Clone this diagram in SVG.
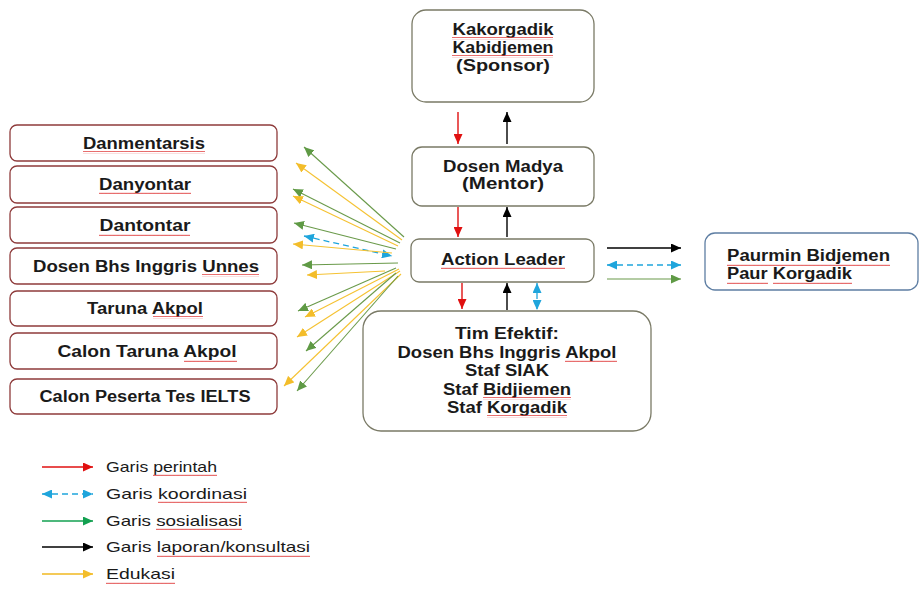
<svg xmlns="http://www.w3.org/2000/svg" width="920" height="592" viewBox="0 0 920 592">
<style>
.bx{fill:#fff;stroke:#7a7a66;stroke-width:1.3}
.lb{fill:#fff;stroke:#8e3b3b;stroke-width:1.3}
.rb{fill:#fff;stroke:#5e7ea3;stroke-width:1.3}
.t{font-family:"Liberation Sans",Arial,sans-serif;font-weight:bold;font-size:16px;fill:#1a1a1a;text-anchor:middle}
.tl{text-anchor:start}
.lg{font-family:"Liberation Sans",Arial,sans-serif;font-size:15px;fill:#1a1a1a}
.sq{fill:url(#wv)}
.r{stroke:#e01010;stroke-width:1.4;fill:none}
.k{stroke:#000;stroke-width:1.4;fill:none}
.b{stroke:#1fa5dc;stroke-width:1.3;fill:none;stroke-dasharray:6 4}
.g{stroke:#6a9a4a;stroke-width:1.1;fill:none}
.y{stroke:#f5c232;stroke-width:1.1;fill:none}
.gl{stroke:#12a050;stroke-width:1.4;fill:none}
.yl{stroke:#f0b820;stroke-width:1.4;fill:none}
</style>
<defs>
<pattern id="wv" patternUnits="userSpaceOnUse" width="4" height="3"><path d="M0,2 L1,0.8 L2,2 L3,0.8 L4,2" fill="none" stroke="#e03a3a" stroke-width="0.8"/></pattern>
<marker id="mr" markerUnits="userSpaceOnUse" markerWidth="11" markerHeight="9" refX="10" refY="4.5" orient="auto-start-reverse"><path d="M0,0L10,4.5L0,9z" fill="#e01010"/></marker>
<marker id="mk" markerUnits="userSpaceOnUse" markerWidth="11" markerHeight="9" refX="10" refY="4.5" orient="auto-start-reverse"><path d="M0,0L10,4.5L0,9z" fill="#000"/></marker>
<marker id="mb" markerUnits="userSpaceOnUse" markerWidth="11" markerHeight="9" refX="10" refY="4.5" orient="auto-start-reverse"><path d="M0,0L10,4.5L0,9z" fill="#1fa5dc"/></marker>
<marker id="mg" markerUnits="userSpaceOnUse" markerWidth="11" markerHeight="9" refX="10" refY="4.5" orient="auto-start-reverse"><path d="M0,0L10,4.5L0,9z" fill="#5f9a45"/></marker>
<marker id="my" markerUnits="userSpaceOnUse" markerWidth="11" markerHeight="9" refX="10" refY="4.5" orient="auto-start-reverse"><path d="M0,0L10,4.5L0,9z" fill="#f3bd2a"/></marker>
<marker id="mgl" markerUnits="userSpaceOnUse" markerWidth="11" markerHeight="9" refX="10" refY="4.5" orient="auto-start-reverse"><path d="M0,0L10,4.5L0,9z" fill="#12a050"/></marker>
</defs>
<rect width="920" height="592" fill="#fff"/>

<g id="sponsor">
<rect class="bx" x="412" y="10" width="182" height="92" rx="14"/>
<text class="t" x="503" y="35" textLength="101" lengthAdjust="spacingAndGlyphs">Kakorgadik</text>
<text class="t" x="503" y="53" textLength="101" lengthAdjust="spacingAndGlyphs">Kabidjemen</text>
<text class="t" x="503" y="71" textLength="94" lengthAdjust="spacingAndGlyphs">(Sponsor)</text>
<rect class="sq" x="452" y="37" width="101" height="3"/>
<rect class="sq" x="452" y="55" width="101" height="3"/>
</g>
<g id="mentor">
<rect class="bx" x="412" y="147" width="182" height="59" rx="10"/>
<text class="t" x="503" y="172" textLength="120" lengthAdjust="spacingAndGlyphs">Dosen Madya</text>
<text class="t" x="503" y="189" textLength="82" lengthAdjust="spacingAndGlyphs">(Mentor)</text>
</g>
<g id="action-leader">
<rect class="bx" x="411" y="239" width="183" height="43" rx="8"/>
<text class="t" x="503" y="265" textLength="124" lengthAdjust="spacingAndGlyphs">Action Leader</text>
<rect class="sq" x="441" y="267" width="124" height="3"/>
</g>
<g id="tim-efektif">
<rect class="bx" x="363" y="311" width="288" height="120" rx="18"/>
<text class="t" x="507" y="339" textLength="104" lengthAdjust="spacingAndGlyphs">Tim Efektif:</text>
<text class="t" x="507" y="358" textLength="219" lengthAdjust="spacingAndGlyphs">Dosen Bhs Inggris Akpol</text>
<text class="t" x="507" y="376" textLength="84" lengthAdjust="spacingAndGlyphs">Staf SIAK</text>
<text class="t" x="507" y="395" textLength="128" lengthAdjust="spacingAndGlyphs">Staf Bidjiemen</text>
<text class="t" x="507" y="413" textLength="120" lengthAdjust="spacingAndGlyphs">Staf Korgadik</text>
<rect class="sq" x="565" y="360" width="52" height="3"/>
<rect class="sq" x="483" y="397" width="88" height="3"/>
<rect class="sq" x="487" y="415" width="80" height="3"/>
</g>
<g id="paurmin">
<rect class="rb" x="705" y="233" width="213" height="57" rx="10"/>
<text class="t tl" x="727" y="261" textLength="163" lengthAdjust="spacingAndGlyphs">Paurmin Bidjemen</text>
<text class="t tl" x="727" y="279" textLength="125" lengthAdjust="spacingAndGlyphs">Paur Korgadik</text>
<rect class="sq" x="727" y="263" width="163" height="3"/>
<rect class="sq" x="727" y="281" width="41" height="3"/>
<rect class="sq" x="773" y="281" width="79" height="3"/>
</g>

<g id="danmentarsis"><rect class="lb" x="10" y="125" width="267" height="36" rx="7"/><text class="t" x="144" y="149" textLength="122" lengthAdjust="spacingAndGlyphs">Danmentarsis</text><rect class="sq" x="83" y="151" width="122" height="3"/></g>
<g id="danyontar"><rect class="lb" x="10" y="166" width="267" height="37" rx="7"/><text class="t" x="145" y="190" textLength="92" lengthAdjust="spacingAndGlyphs">Danyontar</text><rect class="sq" x="99" y="192" width="92" height="3"/></g>
<g id="dantontar"><rect class="lb" x="10" y="207" width="267" height="36" rx="7"/><text class="t" x="145" y="231" textLength="91" lengthAdjust="spacingAndGlyphs">Dantontar</text><rect class="sq" x="99" y="233" width="91" height="3"/></g>
<g id="dosen-unnes"><rect class="lb" x="10" y="248" width="267" height="36" rx="7"/><text class="t" x="146" y="272" textLength="226" lengthAdjust="spacingAndGlyphs">Dosen Bhs Inggris Unnes</text><rect class="sq" x="202" y="274" width="57" height="3"/></g>
<g id="taruna"><rect class="lb" x="10" y="291" width="267" height="35" rx="7"/><text class="t" x="145" y="314" textLength="116" lengthAdjust="spacingAndGlyphs">Taruna Akpol</text><rect class="sq" x="153" y="316" width="50" height="3"/></g>
<g id="calon-taruna"><rect class="lb" x="10" y="333" width="267" height="36" rx="7"/><text class="t" x="147" y="357" textLength="179" lengthAdjust="spacingAndGlyphs">Calon Taruna Akpol</text><rect class="sq" x="184" y="359" width="53" height="3"/></g>
<g id="calon-ielts"><rect class="lb" x="10" y="379" width="267" height="35" rx="7"/><text class="t" x="145" y="402" textLength="211" lengthAdjust="spacingAndGlyphs">Calon Peserta Tes IELTS</text></g>

<g id="connectors">
<line class="r" x1="458" y1="112" x2="458" y2="144" marker-end="url(#mr)"/>
<line class="k" x1="507" y1="144" x2="507" y2="112" marker-end="url(#mk)"/>
<line class="r" x1="458" y1="207" x2="458" y2="237" marker-end="url(#mr)"/>
<line class="k" x1="507" y1="237" x2="507" y2="207" marker-end="url(#mk)"/>
<line class="r" x1="462" y1="283" x2="462" y2="309" marker-end="url(#mr)"/>
<line class="k" x1="507" y1="310" x2="507" y2="283" marker-end="url(#mk)"/>
<line class="b" x1="537" y1="283" x2="537" y2="310" stroke-dasharray="4 3" marker-start="url(#mb)" marker-end="url(#mb)"/>
<line class="k" x1="607" y1="248" x2="681" y2="248" marker-end="url(#mk)"/>
<line class="b" x1="607" y1="265" x2="681" y2="265" stroke-dasharray="4 3" marker-start="url(#mb)" marker-end="url(#mb)"/>
<line class="g" x1="607" y1="279" x2="681" y2="279" stroke-width="1.4" marker-end="url(#mg)"/>

<line class="g" x1="404" y1="237" x2="304" y2="147" marker-end="url(#mg)"/>
<line class="y" x1="402" y1="240" x2="296" y2="163" marker-end="url(#my)"/>
<line class="g" x1="400" y1="243" x2="293" y2="189" marker-end="url(#mg)"/>
<line class="y" x1="398" y1="246" x2="293" y2="196" marker-end="url(#my)"/>
<line class="g" x1="396" y1="249" x2="294" y2="223" marker-end="url(#mg)"/>
<line class="b" x1="304" y1="236" x2="392" y2="256" marker-start="url(#mb)" marker-end="url(#mb)"/>
<line class="y" x1="392" y1="253" x2="293" y2="244" marker-end="url(#my)"/>
<line class="g" x1="398" y1="263" x2="302" y2="265" marker-end="url(#mg)"/>
<line class="y" x1="385" y1="271" x2="307" y2="275" marker-end="url(#my)"/>
<line class="g" x1="396" y1="268" x2="298" y2="311" marker-end="url(#mg)"/>
<line class="y" x1="399" y1="269" x2="305" y2="317" marker-end="url(#my)"/>
<line class="y" x1="400" y1="271" x2="297" y2="337" marker-end="url(#my)"/>
<line class="g" x1="396" y1="273" x2="306" y2="351" marker-end="url(#mg)"/>
<line class="y" x1="401" y1="274" x2="284" y2="386" marker-end="url(#my)"/>
<line class="g" x1="398" y1="276" x2="297" y2="391" marker-end="url(#mg)"/>
</g>

<g id="legend">
<line class="r" x1="42" y1="467" x2="93" y2="467" marker-end="url(#mr)"/>
<text class="lg" x="106" y="472" textLength="111" lengthAdjust="spacingAndGlyphs">Garis perintah</text>
<rect class="sq" x="153" y="474" width="64" height="3"/>
<line class="b" x1="42" y1="494" x2="93" y2="494" stroke-dasharray="5 4" marker-start="url(#mb)" marker-end="url(#mb)"/>
<text class="lg" x="106" y="499" textLength="141" lengthAdjust="spacingAndGlyphs">Garis koordinasi</text>
<rect class="sq" x="158" y="501" width="89" height="3"/>
<line class="gl" x1="42" y1="521" x2="93" y2="521" marker-end="url(#mgl)"/>
<text class="lg" x="106" y="526" textLength="136" lengthAdjust="spacingAndGlyphs">Garis sosialisasi</text>
<rect class="sq" x="156" y="528" width="86" height="3"/>
<line class="k" x1="42" y1="547" x2="93" y2="547" marker-end="url(#mk)"/>
<text class="lg" x="106" y="552" textLength="204" lengthAdjust="spacingAndGlyphs">Garis laporan/konsultasi</text>
<rect class="sq" x="157" y="554" width="153" height="3"/>
<line class="yl" x1="42" y1="574" x2="93" y2="574" marker-end="url(#my)"/>
<text class="lg" x="106" y="579" textLength="69" lengthAdjust="spacingAndGlyphs">Edukasi</text>
<rect class="sq" x="106" y="581" width="69" height="3"/>
</g>
</svg>
